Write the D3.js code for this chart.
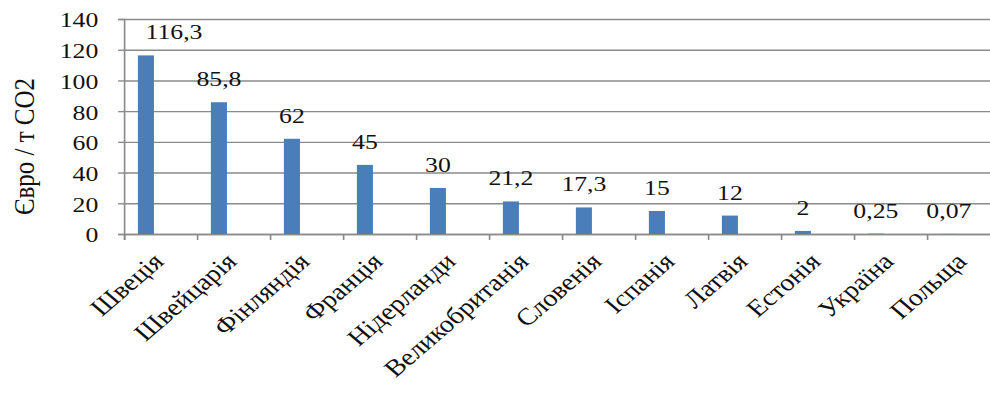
<!DOCTYPE html>
<html>
<head>
<meta charset="utf-8">
<script src="https://cdn.jsdelivr.net/npm/d3@7"></script>
<style>
    html, body { margin: 0; padding: 0; background: white; }
    svg { display: block; }
    svg text { font-family: "Liberation Serif", "Nimbus Roman", "Noto Serif", "FreeSerif", "DejaVu Serif", "Times New Roman", serif; }
</style>
</head>
<body>
<svg id="chart"></svg>
<script>
const countries = ["Швеція", "Швейцарія", "Фінляндія", "Франція", "Нідерланди", "Великобританія",
    "Словенія", "Іспанія", "Латвія", "Естонія", "Україна", "Польща"];
const prices = [116.3, 85.8, 62, 45, 30, 21.2, 17.3, 15, 12, 2, 0.25, 0.07];
const priceLabels = ["116,3", "85,8", "62", "45", "30", "21,2", "17,3", "15", "12", "2", "0,25", "0,07"];
const yTicks = [0, 20, 40, 60, 80, 100, 120, 140];
const yTitle = "Євро / т CO2";

//the picture is stretched sideways, so draw narrow and let the viewBox widen it
const stretch = 1.17;
const width = 990;
const height = 394;
const viewW = width / stretch;

const margin = { top: 19, left: 106, bottom: 160 };
const plotRight = 1000 / stretch;
const axisY = height - margin.bottom;

const svg = d3.select("#chart")
    .attr("width", width)
    .attr("height", height)
    .attr("viewBox", `0 0 ${viewW} ${height}`)
    .attr("preserveAspectRatio", "none");

const data = countries.map((c, i) => ({ country: c, value: prices[i], label: priceLabels[i] }));

const x = d3.scaleBand()
    .domain(countries)
    .range([margin.left, plotRight])
    .padding(0);

const y = d3.scaleLinear()
    .domain([0, 140])
    .range([axisY, margin.top]);

//horizontal grid
const grid = svg.append("g")
    .attr("transform", `translate(${margin.left},0)`)
    .call(d3.axisLeft(y).tickValues(yTicks).tickSize(-(viewW - margin.left)).tickFormat(""));
grid.select(".domain").remove();
grid.selectAll("line")
    .attr("stroke", "#8a8a8a")
    .attr("stroke-width", 1.4);

//y axis
const yAxis = svg.append("g")
    .attr("transform", `translate(${margin.left},0)`)
    .call(d3.axisLeft(y).tickValues(yTicks).tickSize(5).tickPadding(17).tickFormat(d3.format("d")));
yAxis.attr("font-family", null).attr("font-size", null);
yAxis.select(".domain").attr("stroke", "#8a8a8a").attr("stroke-width", 1.4);
yAxis.selectAll("line").attr("stroke", "#8a8a8a").attr("stroke-width", 1.4);
yAxis.selectAll("text")
    .style("font-size", "22px")
    .attr("fill", "#111")
    .attr("dy", "0.36em");

//x axis, ticks sit on the category borders
const borders = countries.map(c => x(c)).concat([plotRight]);
const xAxis = svg.append("g")
    .attr("transform", `translate(0,${axisY})`)
    .call(d3.axisBottom(d3.scaleLinear().domain([margin.left, plotRight]).range([margin.left, plotRight]))
        .tickValues(borders).tickSize(6).tickFormat(""));
xAxis.select(".domain").attr("stroke", "#8a8a8a").attr("stroke-width", 1.4);
xAxis.selectAll("line").attr("stroke", "#8a8a8a").attr("stroke-width", 1.4);

//bars
const bw = x.bandwidth();
svg.selectAll("rect.bar")
    .data(data)
    .enter()
    .append("rect")
    .attr("class", "bar")
    .attr("x", d => x(d.country) + bw * 0.19)
    .attr("width", bw * 0.22)
    .attr("y", d => y(d.value))
    .attr("height", d => axisY - y(d.value))
    .attr("fill", "#4a7ebb");

//value labels (the biggest one is pushed right, off the top gridline)
svg.selectAll("text.value")
    .data(data)
    .enter()
    .append("text")
    .attr("class", "value")
    .attr("x", d => x(d.country) + bw * 0.30 + (d.value > 100 ? 24 : 0))
    .attr("y", d => y(d.value) - 16)
    .attr("text-anchor", "middle")
    .style("font-size", "22px")
    .attr("fill", "#111")
    .text(d => d.label);

//category labels
svg.selectAll("text.cat")
    .data(data)
    .enter()
    .append("text")
    .attr("class", "cat")
    .attr("transform", d => `translate(${x(d.country) + bw / 2 + 4},${axisY + 29}) rotate(-45)`)
    .attr("text-anchor", "end")
    .style("font-size", "24px")
    .attr("fill", "#111")
    .text(d => d.country);

//y title
svg.append("text")
    .attr("transform", `translate(20,${(margin.top + axisY) / 2 + 20}) rotate(-90)`)
    .attr("text-anchor", "middle")
    .attr("dy", "0.35em")
    .style("font-size", "25px")
    .attr("fill", "#111")
    .text(yTitle);
</script>
</body>
</html>
